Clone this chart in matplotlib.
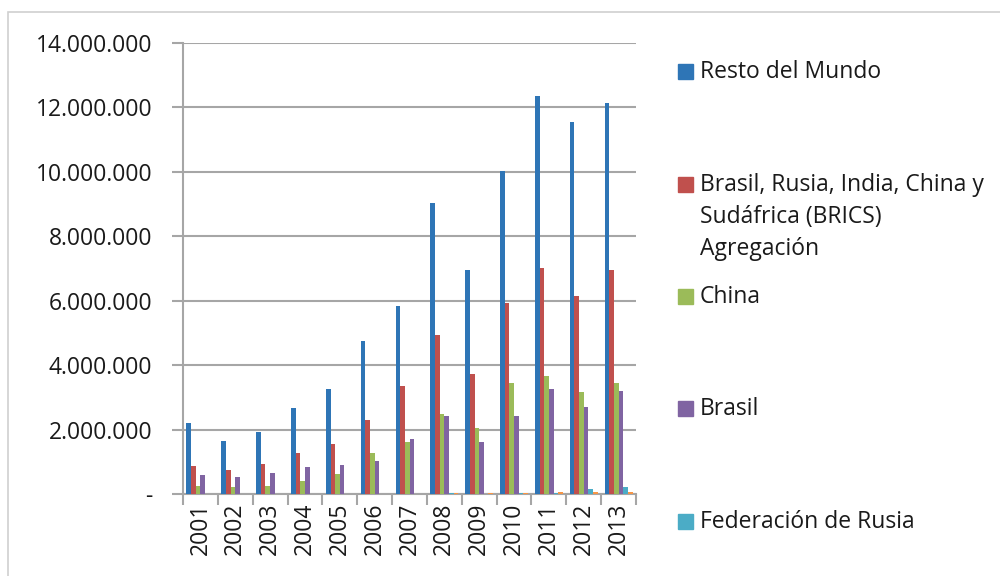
import numpy as np
import matplotlib.pyplot as plt
from matplotlib.patches import Rectangle
from matplotlib.ticker import FuncFormatter, MultipleLocator

plt.rcParams['font.family'] = ['Open Sans', 'DejaVu Sans']

# --- datos ---
years = ['2001', '2002', '2003', '2004', '2005', '2006', '2007',
         '2008', '2009', '2010', '2011', '2012', '2013']
resto_mundo = [2200000, 1650000, 1930000, 2670000, 3260000, 4750000, 5840000,
               9030000, 6950000, 10030000, 12370000, 11560000, 12150000]
brics = [870000, 730000, 930000, 1280000, 1540000, 2310000, 3350000,
         4950000, 3730000, 5920000, 7020000, 6150000, 6950000]
china = [250000, 210000, 260000, 410000, 630000, 1270000, 1610000,
         2470000, 2050000, 3440000, 3660000, 3180000, 3430000]
brasil = [600000, 520000, 650000, 840000, 890000, 1020000, 1700000,
          2420000, 1600000, 2410000, 3260000, 2710000, 3200000]
rusia = [5000, 5000, 6000, 8000, 9000, 10000, 12000,
         15000, 12000, 15000, 20000, 160000, 220000]
otros = [3000, 3000, 4000, 5000, 6000, 8000, 10000,
         40000, 35000, 45000, 70000, 55000, 60000]

series = [
    (['Resto del Mundo'], resto_mundo, '#2E75B6'),
    (['Brasil, Rusia, India, China y', 'Sudáfrica (BRICS)', 'Agregación'], brics, '#C0504D'),
    (['China'], china, '#9BBB59'),
    (['Brasil'], brasil, '#8064A2'),
    (['Federación de Rusia'], rusia, '#4BACC6'),
    (None, otros, '#F79646'),
]

TXT = '#1a1a1a'
FS = 16.5

fig = plt.figure(figsize=(10, 5.76), dpi=100)
ax = fig.add_axes([0.183, 0.1424, 0.453, 0.7829])

x = np.arange(len(years))
n = len(series)
w = 1 / 7.5
for i, (label, vals, color) in enumerate(series):
    ax.bar(x - n * w / 2 + (i + 0.5) * w, vals, width=w, color=color, zorder=3)

# --- ejes ---
grid_c = '#A6A6A6'
ax.set_xlim(-0.5, len(years) - 0.5)
ax.set_ylim(0, 14000000)
ax.yaxis.set_major_locator(MultipleLocator(2000000))

def fmt(v, pos):
    if v == 0:
        return '-'
    return f'{int(v):,}'.replace(',', '.')

ax.yaxis.set_major_formatter(FuncFormatter(fmt))
ax.grid(axis='y', color=grid_c, linewidth=1.5, zorder=0)
ax.tick_params(axis='y', length=8, width=1.5, color=grid_c, pad=14,
               labelsize=FS, labelcolor=TXT)

ax.set_xticks(x)
ax.set_xticklabels(years, rotation=90, fontsize=FS, color=TXT)
ax.set_xticks(np.arange(-0.5, len(years)), minor=True)
ax.tick_params(axis='x', which='major', length=0, pad=6)
ax.tick_params(axis='x', which='minor', length=8, width=1.5, color=grid_c)

for s in ['top', 'right']:
    ax.spines[s].set_visible(False)
for s in ['left', 'bottom']:
    ax.spines[s].set_color(grid_c)
    ax.spines[s].set_linewidth(1.5)

# --- leyenda (a mano, como en Excel) ---
legend_y = [72, 185, 297, 409, 522]
for (lines, vals, color), yp in zip(series[:5], legend_y):
    fig.patches.append(Rectangle((678 / 1000, 1 - (yp + 7) / 576), 15 / 1000, 15 / 576,
                                 transform=fig.transFigure, color=color))
    for k, line in enumerate(lines):
        fig.text(700 / 1000, 1 - (yp + 32 * k) / 576, line, fontsize=FS,
                 color=TXT, va='center')

# marco exterior
fig.patches.append(Rectangle((8 / 1000, -0.1), 1.1, 1 - 12 / 576 + 0.1,
                             transform=fig.transFigure, fill=False,
                             edgecolor='#D0D0D0', linewidth=1.2))

fig.savefig('out.png', dpi=100)
